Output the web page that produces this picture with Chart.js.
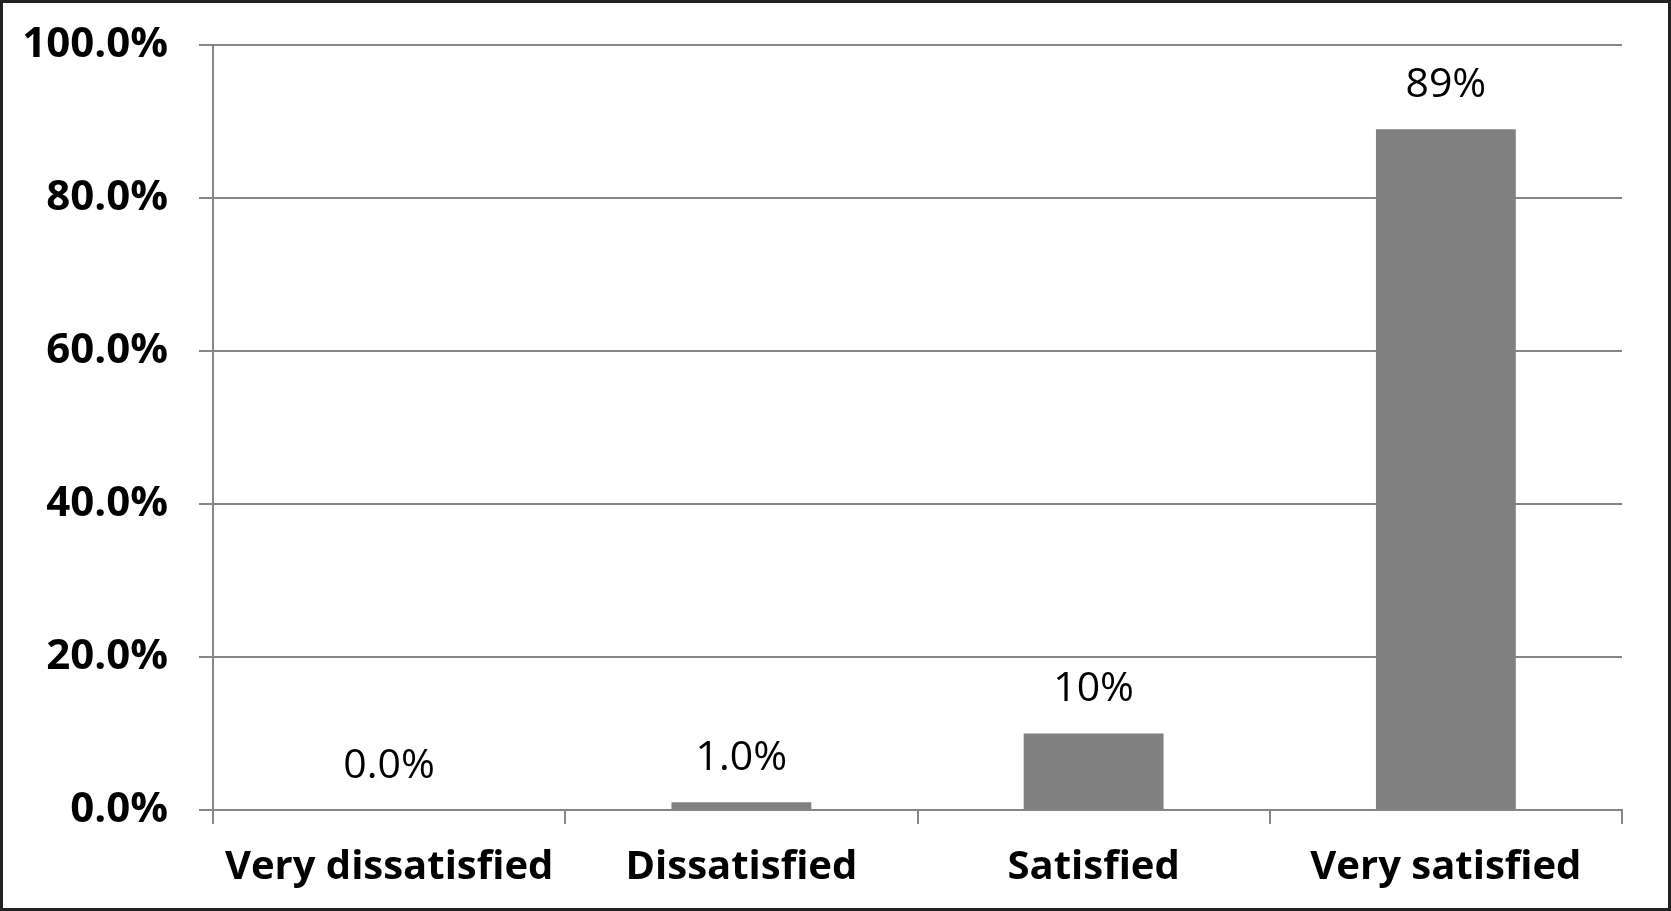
<!DOCTYPE html>
<html>
<head>
<meta charset="utf-8">
<script src="https://cdn.jsdelivr.net/npm/chart.js@4"></script>
<style>
  html, body { margin: 0; padding: 0; background: #fff; }
  #frame {
    position: absolute; left: 0; top: 0;
    width: 1671px; height: 911px;
    box-sizing: border-box;
    border: 3px solid #222;
    background: #fff;
  }
  #chart { display: block; }
</style>
</head>
<body>
<div id="frame"><canvas id="chart" width="1665" height="905"></canvas></div>
<script>
'use strict';
// chart data
var categories = ['Very dissatisfied', 'Dissatisfied', 'Satisfied', 'Very satisfied'];
var percentValues = [0, 1, 10, 89];
var valueLabels = ['0.0%', '1.0%', '10%', '89%'];
var yTicks = [0, 20, 40, 60, 80, 100];

var gridGray = '#868686';

// draws the value text above each bar
var barLabels = {
  id: 'barLabels',
  afterDatasetsDraw: function(chart) {
    var ctx = chart.ctx;
    var meta = chart.getDatasetMeta(0);
    ctx.save();
    ctx.font = '41px "Open Sans"';
    ctx.fillStyle = '#000';
    ctx.textAlign = 'center';
    ctx.textBaseline = 'middle';
    meta.data.forEach(function(bar, i) {
      ctx.fillText(valueLabels[i], bar.x, bar.y - 44);
    });
    ctx.restore();
  }
};

var ctx = document.getElementById('chart').getContext('2d');
new Chart(ctx, {
  type: 'bar',
  data: {
    labels: categories,
    datasets: [{
      data: percentValues,
      backgroundColor: '#808080',
      borderWidth: 0,
      categoryPercentage: 1,
      barPercentage: 0.397
    }]
  },
  options: {
    responsive: false,
    animation: false,
    devicePixelRatio: 1,
    layout: { padding: { top: 42, right: 46, left: 0, bottom: 0 } },
    plugins: {
      legend: { display: false },
      tooltip: { enabled: false }
    },
    scales: {
      x: {
        grid: {
          drawOnChartArea: false,
          drawTicks: true,
          tickLength: 14,
          color: gridGray,
          lineWidth: 2
        },
        border: { color: gridGray, width: 2 },
        ticks: {
          color: '#000',
          padding: 20,
          font: { family: '"Open Sans"', size: 40, weight: 'bold' }
        },
        afterFit: function(scale) { scale.height = 98; }
      },
      y: {
        min: 0,
        max: 100,
        afterBuildTicks: function(scale) {
          scale.ticks = yTicks.map(function(v) { return { value: v }; });
        },
        grid: {
          color: gridGray,
          lineWidth: 2,
          tickLength: 14
        },
        border: { color: gridGray, width: 2 },
        ticks: {
          color: '#000',
          padding: 31,
          font: { family: '"Open Sans"', size: 42, weight: 'bold' },
          callback: function(value) { return value.toFixed(1) + '%'; }
        },
        afterFit: function(scale) {
          scale.width = 210;
          // label overflow is small, keep the plot top where the layout puts it
          scale.paddingTop = 10;
          scale.paddingBottom = 10;
        }
      }
    }
  },
  plugins: [barLabels]
});
</script>
</body>
</html>
